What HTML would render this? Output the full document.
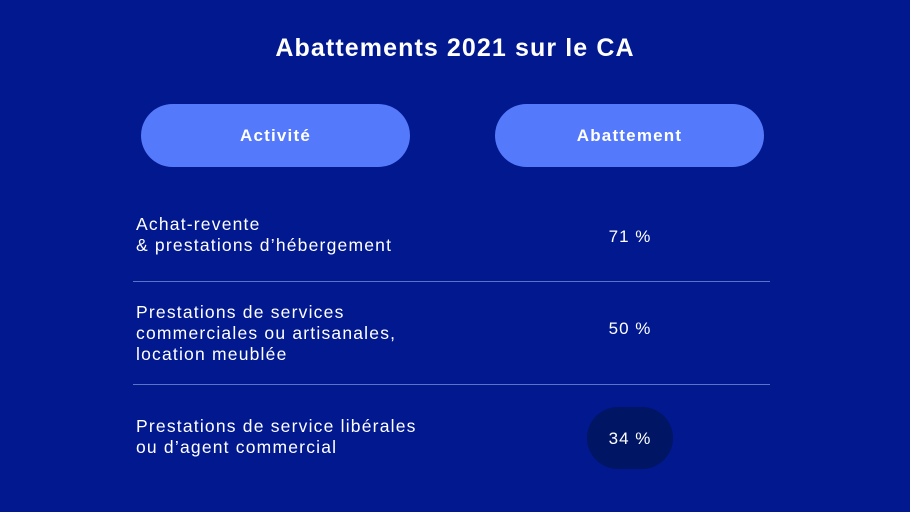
<!DOCTYPE html>
<html><head><style>
body{margin:0;width:910px;height:512px;background:#01188f;font-family:"Liberation Sans",sans-serif;color:#fff;position:relative;overflow:hidden}
.a{position:absolute}
.t{left:0;width:910px;top:34px;text-align:center;font-size:25px;font-weight:bold;letter-spacing:1.1px}
.p{background:#5479fb;border-radius:32px;height:63px;width:269px;top:104px;text-align:center;line-height:63px;font-weight:bold;font-size:17px;letter-spacing:1.2px}
.l{left:136px;font-size:17.5px;line-height:21px;letter-spacing:1.2px}
.v{left:560px;width:140px;text-align:center;font-size:17px;letter-spacing:1px}
.hr{left:133px;width:637px;height:1px;background:#5a72c8}
</style></head><body>
<div class="a t">Abattements 2021 sur le CA</div>
<div class="a p" style="left:141px">Activité</div>
<div class="a p" style="left:495px">Abattement</div>
<div class="a l" style="top:214px">Achat-revente<br>&amp; prestations d’hébergement</div>
<div class="a v" style="top:227px">71 %</div>
<div class="a hr" style="top:281px"></div>
<div class="a l" style="top:302px">Prestations de services<br>commerciales ou artisanales,<br>location meublée</div>
<div class="a v" style="top:319px">50 %</div>
<div class="a hr" style="top:384px"></div>
<div class="a" style="left:587px;top:407px;width:86px;height:62px;border-radius:31px;background:#001563"></div>
<div class="a l" style="top:416px">Prestations de service libérales<br>ou d’agent commercial</div>
<div class="a v" style="top:429px">34 %</div>
</body></html>
